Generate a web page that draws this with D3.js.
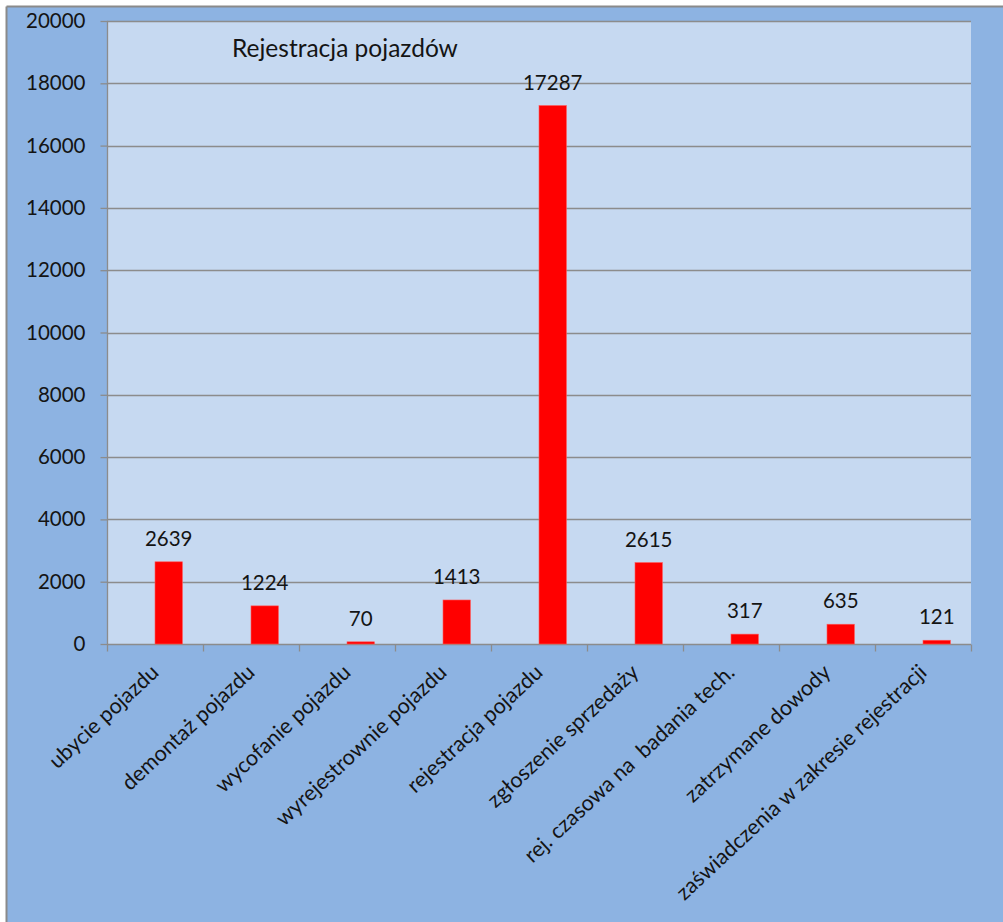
<!DOCTYPE html>
<html>
<head>
<meta charset="utf-8">
<script src="https://cdn.jsdelivr.net/npm/d3@7"></script>
<style>
  html, body { margin: 0; padding: 0; background: #ffffff; }
  svg { display: block; }
  text { font-family: Lato, "Open Sans", sans-serif; fill: #141414; white-space: pre; }
</style>
</head>
<body>
<svg id="chart" width="1003" height="922"></svg>
<script>
// Vehicle registration statistics
const title = "Rejestracja pojazdów";
const categories = [
  "ubycie pojazdu",
  "demontaż pojazdu",
  "wycofanie pojazdu",
  "wyrejestrownie pojazdu",
  "rejestracja pojazdu",
  "zgłoszenie sprzedaży",
  "rej. czasowa na  badania tech.",
  "zatrzymane dowody",
  "zaświadczenia w zakresie rejestracji"
];
const values = [2639, 1224, 70, 1413, 17287, 2615, 317, 635, 121];
const yTicks = [0, 2000, 4000, 6000, 8000, 10000, 12000, 14000, 16000, 18000, 20000];

const svg = d3.select("#chart");
const W = 1003, H = 922;
const plot = { left: 107, right: 971, top: 21, bottom: 644 };

// chart area background with grey top/left edge
svg.append("rect").attr("x", 7).attr("y", 7).attr("width", W - 7).attr("height", H - 7)
  .attr("fill", "#8DB3E2");
svg.append("line").attr("x1", 6.5).attr("x2", W).attr("y1", 6.5).attr("y2", 6.5)
  .attr("stroke", "#8a8a8a").attr("stroke-width", 2);
svg.append("line").attr("x1", 6.5).attr("x2", 6.5).attr("y1", 6.5).attr("y2", H)
  .attr("stroke", "#8a8a8a").attr("stroke-width", 2);

// plot area
svg.append("rect")
  .attr("x", plot.left).attr("y", plot.top)
  .attr("width", plot.right - plot.left).attr("height", plot.bottom - plot.top)
  .attr("fill", "#C6D9F1");

const x = d3.scaleBand().domain(categories).range([plot.left, plot.right]).padding(0);
const y = d3.scaleLinear().domain([0, 20000]).range([plot.bottom, plot.top]);

// horizontal gridlines
svg.append("g").selectAll("line").data(yTicks.filter(d => d > 0)).join("line")
  .attr("x1", plot.left).attr("x2", plot.right)
  .attr("y1", d => Math.round(y(d)) + 0.5).attr("y2", d => Math.round(y(d)) + 0.5)
  .attr("stroke", "#8c8c8c").attr("stroke-width", 1.3);

// y axis
const yAxis = svg.append("g")
  .attr("transform", `translate(${plot.left + 0.5},0)`)
  .call(d3.axisLeft(y).tickValues(yTicks).tickFormat(d => d).tickSize(7).tickPadding(15));
yAxis.select(".domain").attr("stroke", "#8c8c8c").attr("stroke-width", 1.3)
  .attr("d", `M0,${plot.top}V${plot.bottom}`);
yAxis.selectAll(".tick line").attr("stroke", "#8c8c8c").attr("stroke-width", 1.3);
yAxis.selectAll(".tick text").style("font-size", "20.5px").attr("fill", "#141414")
  .style("font-family", "Lato, 'Open Sans', sans-serif");

// x axis
const xAxis = svg.append("g")
  .attr("transform", `translate(0,${plot.bottom + 0.5})`);
xAxis.append("line").attr("x1", plot.left).attr("x2", plot.right)
  .attr("stroke", "#8c8c8c").attr("stroke-width", 1.3);
const bounds = categories.map(c => x(c)).concat([plot.right]);
xAxis.selectAll("line.tick").data(bounds).join("line").attr("class", "tick")
  .attr("x1", d => Math.round(d) + 0.5).attr("x2", d => Math.round(d) + 0.5)
  .attr("y1", 0).attr("y2", 7)
  .attr("stroke", "#8c8c8c").attr("stroke-width", 1.3);

// category labels, rotated
svg.append("g").selectAll("text").data(categories).join("text")
  .attr("transform", d => `translate(${x(d) + x.bandwidth() / 2 + 5},${plot.bottom + 30}) rotate(-43)`)
  .attr("text-anchor", "end")
  .attr("xml:space", "preserve")
  .style("font-size", "21.5px")
  .text(d => d);

// bars: second slot of a two-slot cluster, 150% gap
const slot = x.bandwidth() / 3.5;
const bars = svg.append("g");
bars.selectAll("rect").data(values).join("rect")
  .attr("x", (d, i) => x(categories[i]) + x.bandwidth() / 2)
  .attr("width", slot)
  .attr("y", d => y(d))
  .attr("height", d => y(0) - y(d))
  .attr("fill", "#FF0000")
  .attr("stroke", "#ff5a5a").attr("stroke-width", 0.6);

// value labels
svg.append("g").selectAll("text").data(values).join("text")
  .attr("x", (d, i) => x(categories[i]) + x.bandwidth() / 2 + slot / 2)
  .attr("y", d => y(d) - 16)
  .attr("text-anchor", "middle")
  .style("font-size", "20.5px")
  .text(d => d);

// title
svg.append("text").attr("x", 232).attr("y", 57)
  .style("font-size", "24.5px")
  .text(title);
</script>
</body>
</html>
